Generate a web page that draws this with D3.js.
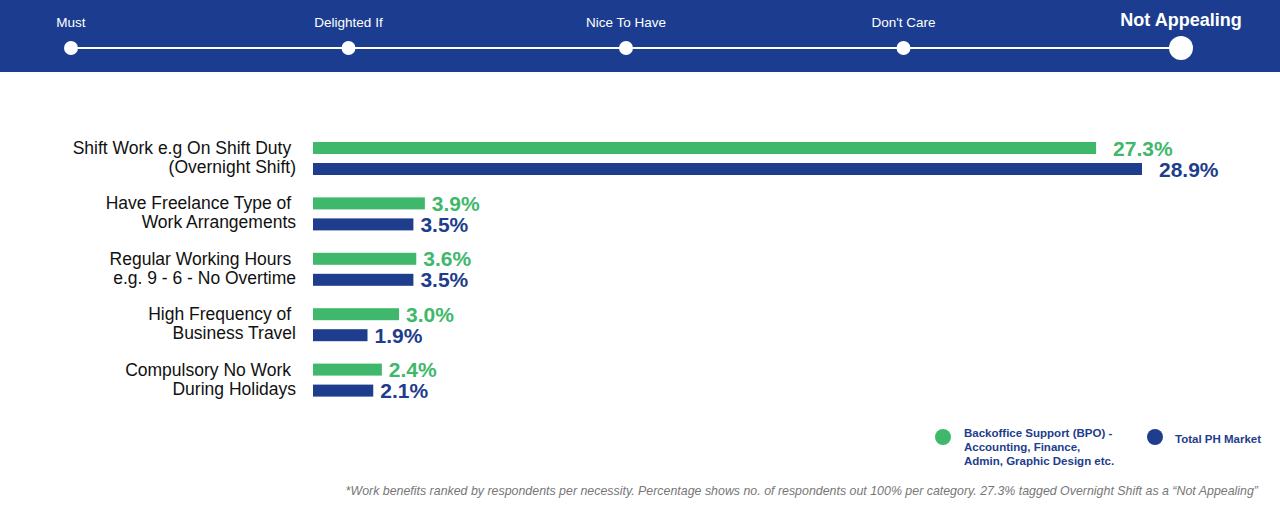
<!DOCTYPE html>
<html>
<head>
<meta charset="utf-8">
<script src="https://cdn.jsdelivr.net/npm/d3@7"></script>
<style>
  body { margin: 0; background: #fff; }
  svg { display: block; font-family: "Liberation Sans", Arial, sans-serif; }
</style>
</head>
<body>
<svg id="chart"></svg>
<script>
const width = 1280, height = 512;

// scale steps on the top band
const steps = ["Must", "Delighted If", "Nice To Have", "Don't Care", "Not Appealing"];
const activeStep = "Not Appealing";

// categories, two label lines each
const categories = [
  ["Shift Work e.g On Shift Duty ", "(Overnight Shift)"],
  ["Have Freelance Type of ", "Work Arrangements"],
  ["Regular Working Hours ", "e.g. 9 - 6 - No Overtime"],
  ["High Frequency of ", "Business Travel"],
  ["Compulsory No Work ", "During Holidays"]
];
const bpoValues = [27.3, 3.9, 3.6, 3.0, 2.4];
const totalValues = [28.9, 3.5, 3.5, 1.9, 2.1];

const seriesNames = [
  ["Backoffice Support (BPO) -", "Accounting, Finance,", "Admin, Graphic Design etc."],
  ["Total PH Market"]
];
const footnote = "*Work benefits ranked by respondents per necessity. Percentage shows no. of respondents out 100% per category. 27.3% tagged Overnight Shift as a \u201cNot Appealing\u201d";

const green = "#3fb86b", blue = "#1e3d8c", band = "#1c3d8f";

const svg = d3.select("#chart").attr("width", width).attr("height", height);

// ---- top band
svg.append("rect").attr("x", 0).attr("y", 0).attr("width", width).attr("height", 72).attr("fill", band);

const sx = d3.scalePoint().domain(steps).range([71, 1181]);
svg.append("line")
  .attr("x1", sx(steps[0])).attr("x2", sx(steps[steps.length - 1]))
  .attr("y1", 48).attr("y2", 48)
  .attr("stroke", "#fff").attr("stroke-width", 2);

svg.append("g").selectAll("circle").data(steps).join("circle")
  .attr("cx", d => sx(d)).attr("cy", 48)
  .attr("r", d => d === activeStep ? 12 : 7)
  .attr("fill", "#fff");

svg.append("g").selectAll("text").data(steps).join("text")
  .attr("x", d => sx(d))
  .attr("y", d => d === activeStep ? 26 : 27)
  .attr("text-anchor", "middle")
  .attr("fill", "#fff")
  .attr("font-size", d => d === activeStep ? 18 : 13.5)
  .attr("font-weight", d => d === activeStep ? "bold" : "normal")
  .text(d => d);

// ---- bars
const x = d3.scaleLinear().domain([0, 28.9]).range([313, 1142]);
const y = d3.scaleBand().domain(d3.range(categories.length)).range([137, 414]);
const barH = 12;

const groups = svg.append("g").selectAll("g").data(categories).join("g")
  .attr("transform", (d, i) => `translate(0,${y(i)})`);

// category labels
groups.append("text")
  .attr("text-anchor", "end")
  .attr("font-size", 17.5)
  .attr("fill", "#111")
  .selectAll("tspan").data(d => d).join("tspan")
  .attr("x", 296)
  .attr("y", (d, j) => 17 + j * 19)
  .text(d => d);

const series = [
  { values: bpoValues, color: green, off: 5 },
  { values: totalValues, color: blue, off: 26 }
];

series.forEach(s => {
  groups.append("rect")
    .attr("x", x(0))
    .attr("y", s.off)
    .attr("height", barH)
    .attr("width", (d, i) => x(s.values[i]) - x(0))
    .attr("fill", s.color);

  groups.append("text")
    .attr("x", (d, i) => x(s.values[i]) + (i === 0 ? 17 : 7))
    .attr("y", s.off + barH / 2 + 7.5)
    .attr("font-size", 21)
    .attr("font-weight", "bold")
    .attr("fill", s.color)
    .text((d, i) => s.values[i].toFixed(1) + "%");
});

// ---- legend
const legend = [
  { names: seriesNames[0], color: green, cx: 943, tx: 964 },
  { names: seriesNames[1], color: blue, cx: 1155, tx: 1175 }
];
legend.forEach(l => {
  svg.append("circle").attr("cx", l.cx).attr("cy", 437).attr("r", 8).attr("fill", l.color);
  svg.append("text")
    .attr("font-size", 11.5).attr("font-weight", "bold").attr("fill", blue)
    .selectAll("tspan").data(l.names).join("tspan")
    .attr("x", l.tx)
    .attr("y", (d, j) => (l.names.length > 1 ? 437 : 443) + j * 14)
    .text(d => d);
});

// ---- footnote
svg.append("text")
  .attr("x", 1258).attr("y", 495)
  .attr("text-anchor", "end")
  .attr("font-size", 12.4).attr("font-style", "italic")
  .attr("fill", "#777")
  .text(footnote);
</script>
</body>
</html>
